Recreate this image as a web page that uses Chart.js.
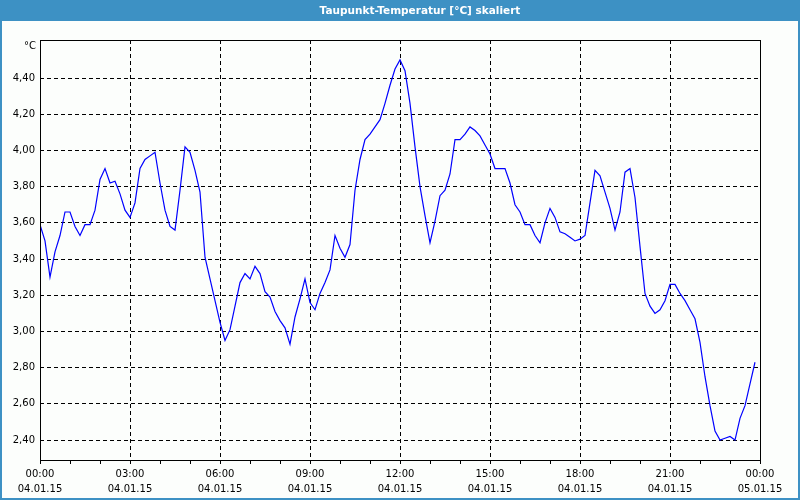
<!DOCTYPE html>
<html><head><meta charset="utf-8">
<script src="https://cdn.jsdelivr.net/npm/chart.js@4/dist/chart.umd.min.js"></script>
<style>html,body{margin:0;padding:0;background:#fff}#wrap{width:800px;height:500px;position:relative}</style>
</head><body><div id="wrap"><canvas id="c" width="800" height="500"></canvas></div>
<script>
const chartTitle = 'Taupunkt-Temperatur [°C] skaliert';
const yUnit = '°C';
const sampleStepMinutes = 10;
const dewPoint = [
  3.59, 3.50, 3.30, 3.44, 3.53, 3.66, 3.66, 3.58, 3.53, 3.59,
  3.59, 3.67, 3.84, 3.90, 3.82, 3.83, 3.76, 3.67, 3.63, 3.71,
  3.90, 3.95, 3.97, 3.99, 3.82, 3.67, 3.58, 3.56, 3.78, 4.02,
  3.99, 3.89, 3.77, 3.41, 3.29, 3.17, 3.05, 2.95, 3.01, 3.14,
  3.27, 3.32, 3.29, 3.36, 3.32, 3.22, 3.19, 3.11, 3.06, 3.02,
  2.93, 3.08, 3.18, 3.29, 3.16, 3.12, 3.21, 3.27, 3.34, 3.53,
  3.46, 3.41, 3.48, 3.78, 3.95, 4.06, 4.09, 4.13, 4.17, 4.26,
  4.36, 4.45, 4.50, 4.44, 4.26, 4.02, 3.80, 3.64, 3.49, 3.61,
  3.75, 3.78, 3.87, 4.06, 4.06, 4.09, 4.13, 4.11, 4.08, 4.03,
  3.98, 3.90, 3.90, 3.90, 3.82, 3.70, 3.66, 3.59, 3.59, 3.53,
  3.49, 3.60, 3.68, 3.63, 3.55, 3.54, 3.52, 3.50, 3.51, 3.53,
  3.71, 3.89, 3.86, 3.77, 3.68, 3.56, 3.66, 3.88, 3.90, 3.74,
  3.47, 3.21, 3.14, 3.10, 3.12, 3.17, 3.26, 3.26, 3.21, 3.17,
  3.12, 3.07, 2.94, 2.75, 2.59, 2.45, 2.40, 2.41, 2.42, 2.40,
  2.52, 2.59, 2.71, 2.83
];
const xTickHours = [0, 3, 6, 9, 12, 15, 18, 21, 24];
const xTickTimes = ['00:00','03:00','06:00','09:00','12:00','15:00','18:00','21:00','00:00'];
const xTickDates = ['04.01.15','04.01.15','04.01.15','04.01.15','04.01.15','04.01.15','04.01.15','04.01.15','05.01.15'];
const yTickValues = [2.4, 2.6, 2.8, 3.0, 3.2, 3.4, 3.6, 3.8, 4.0, 4.2, 4.4];
const yTickLabels = ['2,40','2,60','2,80','3,00','3,20','3,40','3,60','3,80','4,00','4,20','4,40'];
const yMin = 2.29, yMax = 4.61;
const xMin = 0, xMax = 24;

const points = dewPoint.map((v, i) => ({x: i * sampleStepMinutes / 60, y: v}));
const FONT = 'DejaVu Sans';

const framePlugin = {
  id: 'frame',
  beforeDraw(chart) {
    const ctx = chart.ctx;
    ctx.save();
    ctx.fillStyle = '#fcfefc';
    ctx.fillRect(0, 0, 800, 500);
    ctx.fillStyle = '#3d91c4';
    ctx.fillRect(0, 0, 800, 21);
    ctx.fillStyle = '#ffffff';
    ctx.font = 'bold 10.5px "' + FONT + '"';
    ctx.textAlign = 'center';
    ctx.textBaseline = 'middle';
    ctx.fillText(chartTitle, 420, 11);
    ctx.restore();
  },
  afterDraw(chart) {
    const ctx = chart.ctx, a = chart.chartArea;
    ctx.save();
    ctx.strokeStyle = '#000';
    ctx.lineWidth = 1;
    ctx.strokeRect(Math.round(a.left) + 0.5, Math.round(a.top) + 0.5, Math.round(a.right - a.left), Math.round(a.bottom - a.top));
    ctx.fillStyle = '#000';
    ctx.font = '10px "' + FONT + '"';
    ctx.textAlign = 'right';
    ctx.textBaseline = 'middle';
    ctx.fillText(yUnit, a.left - 4, a.top + 6);
    ctx.strokeStyle = '#3d91c4';
    ctx.lineWidth = 2;
    ctx.strokeRect(1, 1, 798, 498);
    ctx.restore();
  }
};

new Chart(document.getElementById('c'), {
  type: 'line',
  data: {
    datasets: [{
      data: points,
      borderColor: '#0000ff',
      borderWidth: 1.2,
      pointRadius: 0,
      tension: 0,
      fill: false
    }]
  },
  options: {
    responsive: false,
    animation: false,
    devicePixelRatio: 1,
    layout: {padding: {top: 40, right: 40, left: 0, bottom: 0}},
    plugins: {legend: {display: false}, title: {display: false}, tooltip: {enabled: false}},
    scales: {
      x: {
        type: 'linear',
        min: xMin, max: xMax,
        afterFit: s => { s.height = 40; },
        grid: {
          color: c => (c.tick && c.tick.value % 3 === 0) ? '#000' : 'rgba(0,0,0,0)',
          tickColor: '#000', tickLength: 4, tickBorderDash: [], lineWidth: 1
        },
        border: {display: false, dash: [4, 3]},
        ticks: {
          stepSize: 1, autoSkip: false, maxRotation: 0, minRotation: 0, color: '#000', padding: 3,
          font: {family: FONT, size: 10, lineHeight: 1.5},
          callback: v => { const k = xTickHours.indexOf(v); return k >= 0 ? [xTickTimes[k], xTickDates[k]] : ''; }
        }
      },
      y: {
        min: yMin, max: yMax,
        afterFit: s => { s.width = 40; },
        afterBuildTicks: s => { s.ticks = yTickValues.map(v => ({value: v})); },
        grid: {color: '#000', drawTicks: false, lineWidth: 1},
        border: {display: false, dash: [4, 3]},
        ticks: {
          color: '#000', padding: 5,
          font: {family: FONT, size: 10},
          callback: v => { const k = yTickValues.findIndex(t => Math.abs(t - v) < 1e-6); return k >= 0 ? yTickLabels[k] : ''; }
        }
      }
    }
  },
  plugins: [framePlugin]
});
</script></body></html>
